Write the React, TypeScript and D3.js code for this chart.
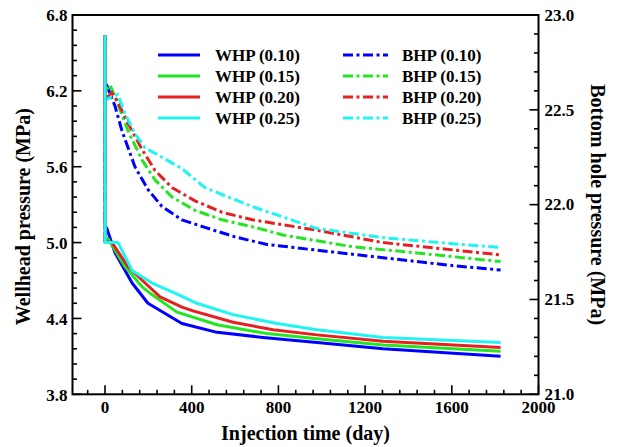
import React from "react";
import * as d3 from "d3";

// ---- data (time in days, pressures in MPa) ----
const seriesLabels = ["0.10", "0.15", "0.20", "0.25"];
const seriesColors = ["#0000ff", "#22e622", "#e62020", "#22f4f4"];

const whp010: [number, number][] = [[0, 6.64], [1, 5.13], [9, 5.11], [46, 4.92], [125, 4.68], [198, 4.52], [355, 4.36], [517, 4.29], [729, 4.25], [978, 4.21], [1283, 4.16], [1825, 4.1]];
const whp015: [number, number][] = [[0, 6.64], [1, 5.04], [14, 5.03], [92, 4.81], [171, 4.65], [208, 4.6], [332, 4.45], [517, 4.35], [747, 4.28], [978, 4.24], [1283, 4.19], [1825, 4.14]];
const whp020: [number, number][] = [[0, 6.64], [1, 5.01], [32, 5.0], [106, 4.81], [185, 4.68], [254, 4.57], [355, 4.49], [406, 4.46], [591, 4.37], [775, 4.31], [978, 4.27], [1283, 4.22], [1825, 4.17]];
const whp025: [number, number][] = [[0, 6.64], [1, 5.0], [60, 5.0], [125, 4.78], [217, 4.68], [323, 4.6], [424, 4.52], [591, 4.43], [794, 4.36], [978, 4.31], [1283, 4.25], [1825, 4.21]];

const bhp010: [number, number][] = [[0, 21.8], [1, 22.64], [8, 22.63], [46, 22.52], [78, 22.39], [138, 22.2], [198, 22.08], [263, 21.99], [355, 21.92], [461, 21.88], [600, 21.83], [747, 21.79], [978, 21.76], [1283, 21.72], [1592, 21.68], [1825, 21.655]];
const bhp015: [number, number][] = [[0, 21.8], [1, 22.6], [23, 22.63], [46, 22.57], [106, 22.39], [171, 22.235], [231, 22.13], [309, 22.04], [415, 21.97], [540, 21.92], [692, 21.88], [821, 21.84], [1130, 21.78], [1440, 21.745], [1825, 21.7]];
const bhp020: [number, number][] = [[0, 21.8], [1, 22.61], [14, 22.57], [32, 22.59], [55, 22.55], [106, 22.43], [171, 22.29], [231, 22.18], [309, 22.09], [415, 22.02], [540, 21.96], [680, 21.92], [978, 21.865], [1283, 21.8], [1825, 21.735]];
const bhp025: [number, number][] = [[0, 21.8], [1, 22.55], [32, 22.57], [60, 22.58], [92, 22.48], [138, 22.375], [185, 22.3], [263, 22.25], [355, 22.19], [461, 22.09], [568, 22.04], [692, 21.985], [978, 21.874], [1283, 21.826], [1592, 21.795], [1825, 21.775]];

const whpSeries = [whp010, whp015, whp020, whp025];
const bhpSeries = [bhp010, bhp015, bhp020, bhp025];

const xMajorTicks = [0, 400, 800, 1200, 1600, 2000];
const leftMajorTicks = [3.8, 4.4, 5.0, 5.6, 6.2, 6.8];
const rightMajorTicks = [21.0, 21.5, 22.0, 22.5, 23.0];

const FONT = "'Liberation Serif', 'Times New Roman', serif";
const DASH = "10,3.5,3,3.5";

export default function App() {
  const W = 622, H = 447;
  const left = 72.5, right = 538.5, top = 15, bottom = 394.3;

  const x = d3.scaleLinear().domain([-150, 2000]).range([left, right]);
  const yL = d3.scaleLinear().domain([3.8, 6.8]).range([bottom, top]);
  const yR = d3.scaleLinear().domain([21, 23]).range([bottom, top]);

  const lineL = d3.line<[number, number]>().x((d) => x(d[0])).y((d) => yL(d[1]));
  const lineR = d3.line<[number, number]>().x((d) => x(d[0])).y((d) => yR(d[1]));

  const xMinor = d3.range(-80, 2000, 80).filter((v) => v % 400 !== 0);
  const leftMinor = d3.range(0, 26).map((i) => 3.8 + i * 0.12).filter((_, i) => i % 5 !== 0);
  const rightMinor = d3.range(0, 21).map((i) => 21 + i * 0.1).filter((_, i) => i % 5 !== 0);

  const majLen = 9, minLen = 4.5;

  return (
    <svg width={W} height={H} style={{ position: "absolute", left: 0, top: 0, background: "#fff" }}>
      <rect x={0} y={0} width={W} height={H} fill="#fff" />
      {/* BHP dash-dot */}
      <g fill="none" strokeWidth={3}>
        {bhpSeries.map((s, i) => (
          <path key={"b" + i} d={lineR(s) || ""} stroke={seriesColors[i]} strokeDasharray={DASH} />
        ))}
      </g>
      {/* WHP solid */}
      <g fill="none" strokeWidth={3} strokeLinejoin="round">
        {whpSeries.map((s, i) => (
          <path key={"w" + i} d={lineL(s) || ""} stroke={seriesColors[i]} />
        ))}
      </g>

      {/* frame */}
      <rect x={left} y={top} width={right - left} height={bottom - top} fill="none" stroke="#000" strokeWidth={2} />

      {/* ticks */}
      <g stroke="#000" strokeWidth={1.6}>
        {xMajorTicks.map((v) => (
          <line key={"xm" + v} x1={x(v)} x2={x(v)} y1={bottom} y2={bottom - majLen} />
        ))}
        {xMinor.map((v) => (
          <line key={"xn" + v} x1={x(v)} x2={x(v)} y1={bottom} y2={bottom - minLen} />
        ))}
        {leftMajorTicks.map((v) => (
          <line key={"lm" + v} x1={left} x2={left + majLen} y1={yL(v)} y2={yL(v)} />
        ))}
        {leftMinor.map((v, i) => (
          <line key={"ln" + i} x1={left} x2={left + minLen} y1={yL(v)} y2={yL(v)} />
        ))}
        {rightMajorTicks.map((v) => (
          <line key={"rm" + v} x1={right} x2={right - majLen} y1={yR(v)} y2={yR(v)} />
        ))}
        {rightMinor.map((v, i) => (
          <line key={"rn" + i} x1={right} x2={right - minLen} y1={yR(v)} y2={yR(v)} />
        ))}
      </g>

      {/* tick labels */}
      <g fontFamily={FONT} fontWeight="bold" fontSize={17} fill="#000">
        {xMajorTicks.map((v) => (
          <text key={"xl" + v} x={x(v)} y={413} textAnchor="middle">{v}</text>
        ))}
        {leftMajorTicks.map((v) => (
          <text key={"ll" + v} x={left - 5} y={yL(v)} dy="0.38em" textAnchor="end">{v.toFixed(1)}</text>
        ))}
        {rightMajorTicks.map((v) => (
          <text key={"rl" + v} x={right + 6} y={yR(v)} dy="0.34em" textAnchor="start">{v.toFixed(1)}</text>
        ))}
      </g>

      {/* axis titles */}
      <g fontFamily={FONT} fontWeight="bold" fontSize={20} fill="#000">
        <text x={(left + right) / 2} y={440} textAnchor="middle">Injection time (day)</text>
        <text transform={`translate(30, ${(top + bottom) / 2 + 12}) rotate(-90)`} textAnchor="middle">Wellhead pressure (MPa)</text>
        <text transform={`translate(591, ${(top + bottom) / 2}) rotate(90)`} textAnchor="middle">Bottom hole pressure (MPa)</text>
      </g>

      {/* legend */}
      <g fontFamily={FONT} fontWeight="bold" fontSize={17} fill="#000">
        {seriesLabels.map((lab, i) => {
          const yy = 55 + i * 21;
          return (
            <g key={"lg" + i}>
              <line x1={158} x2={200} y1={yy} y2={yy} stroke={seriesColors[i]} strokeWidth={3} />
              <text x={215} y={yy} dy="0.36em">{`WHP (${lab})`}</text>
              <line x1={343} x2={388} y1={yy} y2={yy} stroke={seriesColors[i]} strokeWidth={3} strokeDasharray={DASH} />
              <text x={402} y={yy} dy="0.36em">{`BHP (${lab})`}</text>
            </g>
          );
        })}
      </g>
    </svg>
  );
}
